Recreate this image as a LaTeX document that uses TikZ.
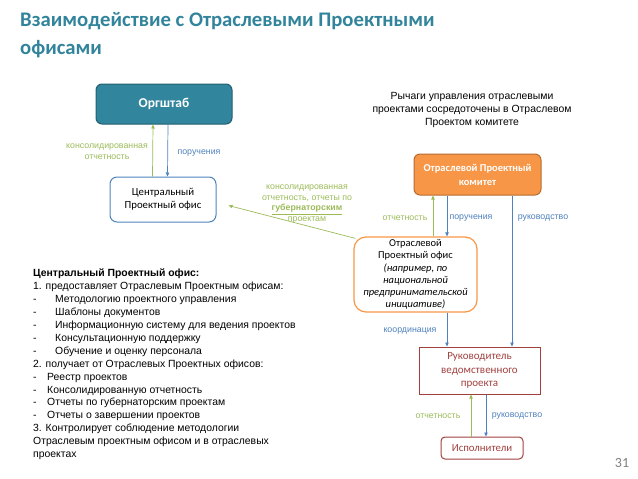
\documentclass[tikz,border=0pt]{standalone}
\usepackage{fontspec}
\setmainfont{Liberation Sans}
\newfontfamily\calibri{Carlito}
\usetikzlibrary{arrows.meta}
\definecolor{titleteal}{HTML}{31849B}
\definecolor{orgfill}{HTML}{31859C}
\definecolor{orgline}{HTML}{245F70}
\definecolor{repgreen}{HTML}{9BBB59}
\definecolor{ordblue}{HTML}{4F81BD}
\definecolor{komfill}{HTML}{F79646}
\definecolor{komline}{HTML}{B66D31}
\definecolor{rukred}{HTML}{A0403E}
\begin{document}
\begin{tikzpicture}[x=1pt, y=-1pt,
    >={Triangle[length=4pt,width=3.4pt]},
    box/.style={draw, line width=1pt, align=center, inner sep=2pt,
                font=\calibri\fontsize{10.8}{13}\selectfont},
    report/.style={->, repgreen, line width=0.7pt},
    order/.style={->, ordblue, line width=0.7pt},
    greenlbl/.style={repgreen, align=center, font=\fontsize{8.8}{10.8}\selectfont},
    bluelbl/.style={ordblue, align=center, font=\fontsize{8.8}{10.8}\selectfont}]

    \useasboundingbox (0,0) rectangle (638,479);

    % заголовок
    \node[anchor=north west, inner sep=0, align=left, titleteal,
          font=\calibri\bfseries\fontsize{20.7}{28}\selectfont] (title) at (20,12)
        {Взаимодействие с Отраслевыми Проектными\\офисами};

    % === узлы ===
    \node[box, rounded corners=6pt, fill=orgfill, draw=orgline, text=white,
          font=\calibri\bfseries\fontsize{13.5}{15}\selectfont,
          minimum width=136pt, minimum height=40pt] (org) at (164,104) {Оргштаб};
    \node[box, rounded corners=7pt, draw=ordblue,
          minimum width=106pt, minimum height=45pt] (cpo) at (163,199.5)
        {Центральный\\Проектный офис};
    \node[box, rounded corners=6pt, fill=komfill, draw=komline, text=white,
          font=\calibri\bfseries\fontsize{10.5}{14}\selectfont,
          minimum width=127pt, minimum height=41pt] (kom) at (477.5,174.5)
        {Отраслевой Проектный\\комитет};
    \node[box, rounded corners=12pt, draw=komfill, line width=1.2pt,
          font=\calibri\fontsize{10.5}{12.2}\selectfont,
          minimum width=123pt, minimum height=75pt] (oso) at (415.5,274.5)
        {Отраслевой\\Проектный офис\\\textit{(например, по}\\\textit{национальной}\\\textit{предпринимательской}\\\textit{инициативе)}};
    \node[box, draw=rukred, text=rukred,
          font=\calibri\fontsize{11}{13.5}\selectfont,
          minimum width=121pt, minimum height=47pt] (ruk) at (479.5,370.5)
        {Руководитель\\ведомственного\\проекта};
    \node[box, rounded corners=4pt, draw=rukred, text=rukred,
          minimum width=82pt, minimum height=22pt] (isp) at (482,448) {Исполнители};

    % === подписи ===
    \node[align=center, font=\fontsize{10.4}{13}\selectfont] (rychagi) at (472,110)
        {Рычаги управления отраслевыми\\проектами сосредоточены в Отраслевом\\Проектом комитете};
    \node[greenlbl] (l1) at (107,151.5) {консолидированная\\отчетность};
    \node[bluelbl] (l2) at (199,153) {поручения};
    \node[greenlbl] (l3) at (307,204)
        {консолидированная\\отчетность, отчеты по\\\textcolor{repgreen}{\underline{\textbf{губернаторским}}}\\проектам};
    \node[greenlbl] (l4) at (405,218) {отчетность};
    \node[bluelbl] (l5) at (471,218) {поручения};
    \node[bluelbl] (l6) at (543,218) {руководство};
    \node[bluelbl] (l7) at (410,331) {координация};
    \node[greenlbl] (l8) at (438,416) {отчетность};
    \node[bluelbl] (l9) at (517,416) {руководство};

    % === связи ===
    \draw[report] ([xshift=-10.5pt]cpo.north) -- ([xshift=-11pt]org.south);
    \draw[order] ([xshift=4pt]org.south) -- ([xshift=4.5pt]cpo.north);
    \draw[report] ([xshift=2pt,yshift=-2pt]oso.north west) -- ([xshift=12pt,yshift=-6pt]cpo.east);
    \draw[report] ([xshift=17.5pt]oso.north) -- ([xshift=-44.5pt]kom.south);
    \draw[order] ([xshift=-30.5pt]kom.south) -- ([xshift=31.5pt]oso.north);
    \draw[order] ([xshift=34.5pt]kom.south) -- ([xshift=32.5pt]ruk.north);
    \draw[order] ([xshift=31.5pt]oso.south) -- ([xshift=-32.5pt]ruk.north);
    \draw[report] ([xshift=-11pt]isp.north) -- ([xshift=-8.5pt]ruk.south);
    \draw[order] ([xshift=6.5pt]ruk.south) -- ([xshift=4pt]isp.north);

    % === список функций ЦПО ===
    \node[anchor=north west, inner sep=0, align=left,
          font=\fontsize{10.4}{12.9}\selectfont] (spisok) at (33,269)
        {\textbf{Центральный Проектный офис:}\\
         1. предоставляет Отраслевым Проектным офисам:\\
         \makebox[22pt][l]{-}Методологию проектного управления\\
         \makebox[22pt][l]{-}Шаблоны документов\\
         \makebox[22pt][l]{-}Информационную систему для ведения проектов\\
         \makebox[22pt][l]{-}Консультационную поддержку\\
         \makebox[22pt][l]{-}Обучение и оценку персонала\\
         2. получает от Отраслевых Проектных офисов:\\
         \makebox[14pt][l]{-}Реестр проектов\\
         \makebox[14pt][l]{-}Консолидированную отчетность\\
         \makebox[14pt][l]{-}Отчеты по губернаторским проектам\\
         \makebox[14pt][l]{-}Отчеты о завершении проектов\\
         3. Контролирует соблюдение методологии\\
         Отраслевым проектным офисом и в отраслевых\\
         проектах};

    % номер слайда
    \node[text=gray, font=\calibri\fontsize{14}{16}\selectfont] (num) at (622,463) {31};

\end{tikzpicture}
\end{document}
